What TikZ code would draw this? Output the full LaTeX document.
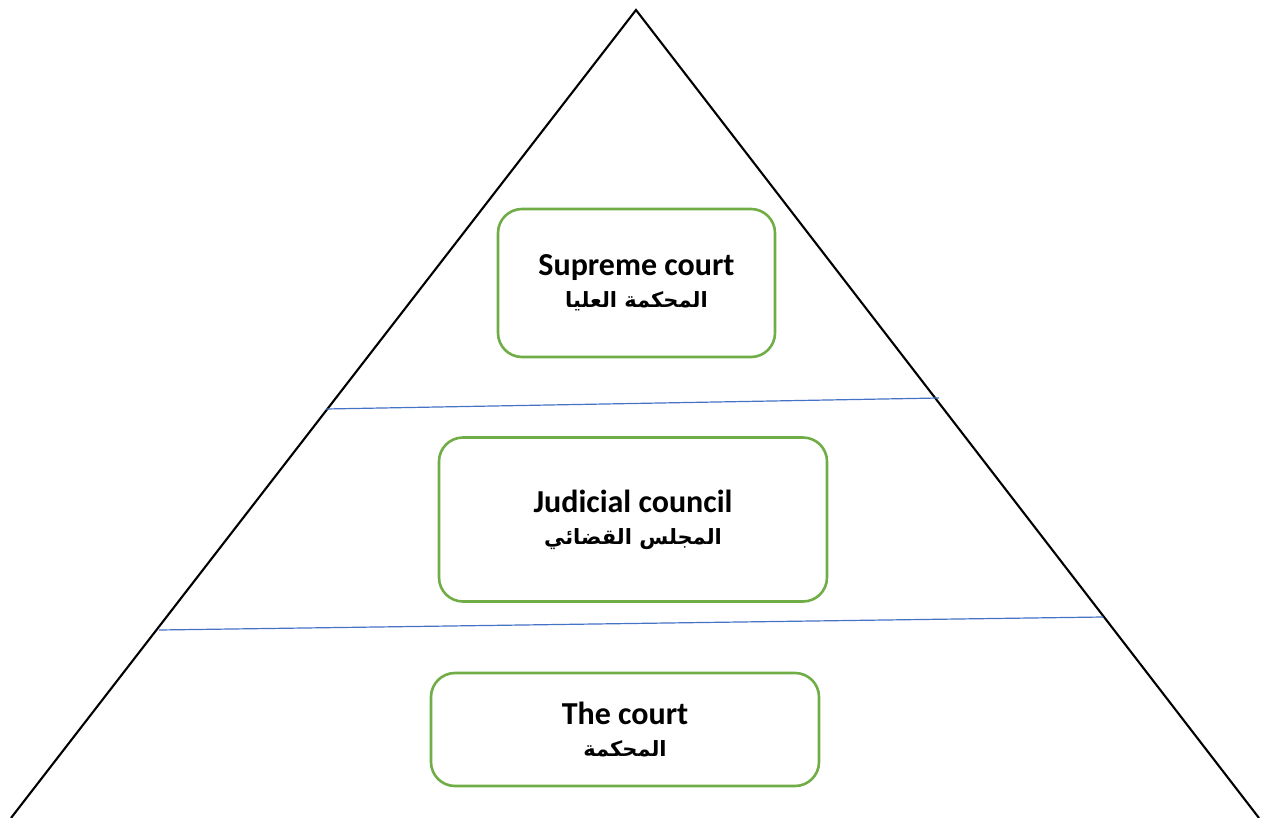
\documentclass[tikz,border=0pt]{standalone}
\usepackage{fontspec}
\setmainfont{Carlito}
\newfontfamily\arabicfont[Script=Arabic]{DejaVu Sans}
\TeXXeTstate=1
\definecolor{boxgreen}{HTML}{70AD47}
\definecolor{lineblue}{HTML}{4472C4}
\newcommand{\artext}[1]{{\arabicfont\fontsize{21}{32}\selectfont\bfseries\beginR #1\endR}}
\begin{document}
\begin{tikzpicture}[x=1pt,y=-1pt,
  tier/.style={draw=boxgreen, line width=2.6pt, rounded corners=24pt, fill=white,
    align=center, inner sep=0pt, font=\fontsize{32}{32}\selectfont\bfseries},
  edge/.style={draw=black, line width=2.1pt},
  divider/.style={draw=lineblue, line width=1.2pt}]
\useasboundingbox (0,0) rectangle (1263,818);
\coordinate (apex) at (636,10);
\coordinate (bl) at (11,818);
\coordinate (br) at (1259,818);
\draw[edge] (bl) -- (apex) -- (br);
\coordinate (u1) at (326,409);
\coordinate (u2) at (939,398);
\coordinate (l1) at (159,630);
\coordinate (l2) at (1103,617);
\draw[divider] (u1) -- (u2);
\draw[divider] (l1) -- (l2);
\node[tier, minimum width=277, minimum height=148] (sup) at (636.5,283)
  {Supreme court\\\artext{المحكمة العليا}};
\node[tier, minimum width=388, minimum height=164] (jud) at (633,519.5)
  {Judicial council\\\artext{المجلس القضائي}};
\node[tier, minimum width=388, minimum height=113] (crt) at (625,729.5)
  {The court\\\artext{المحكمة}};
\end{tikzpicture}
\end{document}
